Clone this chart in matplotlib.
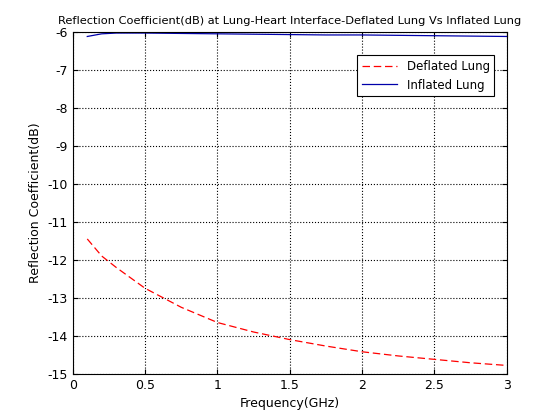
import matplotlib
matplotlib.use("Agg")
import matplotlib.pyplot as plt
plt.rcParams['axes.unicode_minus'] = False

freq = [0.1, 0.2, 0.3, 0.5, 0.75, 1.0, 1.25, 1.5, 1.75, 2.0, 2.25, 2.5, 2.75, 3.0]
deflated = [-11.45, -11.9, -12.2, -12.75, -13.25, -13.65, -13.9, -14.1, -14.27, -14.42, -14.53, -14.62, -14.71, -14.78]
inflated = [-6.12, -6.05, -6.03, -6.03, -6.04, -6.05, -6.06, -6.07, -6.08, -6.08, -6.09, -6.1, -6.11, -6.12]

fig = plt.figure(figsize=(5.6, 4.2), dpi=100)
ax = fig.add_axes([0.130, 0.110, 0.775, 0.814])
ax.plot(freq, deflated, 'r--', lw=0.9, dashes=(6, 3), label='Deflated Lung')
ax.plot(freq, inflated, color='#0000aa', lw=0.9, label='Inflated Lung')
ax.set_xlim(0, 3)
ax.set_ylim(-15, -6)
ax.set_xticks([0, 0.5, 1, 1.5, 2, 2.5, 3])
ax.set_xticklabels(['0', '0.5', '1', '1.5', '2', '2.5', '3'])
ax.set_yticks(range(-15, -5))
ax.grid(True, linestyle=':', color='black', lw=0.8)
ax.tick_params(direction='in', labelsize=9, top=True, right=True)
ax.set_xlabel('Frequency(GHz)', fontsize=9)
ax.set_ylabel('Reflection Coefficient(dB)', fontsize=9)
ax.set_title('Reflection Coefficient(dB) at Lung-Heart Interface-Deflated Lung Vs Inflated Lung', fontsize=8.2)
leg = ax.legend(loc='upper right', fontsize=8.5, fancybox=False, edgecolor='black', framealpha=1,
                bbox_to_anchor=(0.985, 0.95), handlelength=3)
leg.get_frame().set_linewidth(0.8)
fig.savefig('out.png', dpi=100)
